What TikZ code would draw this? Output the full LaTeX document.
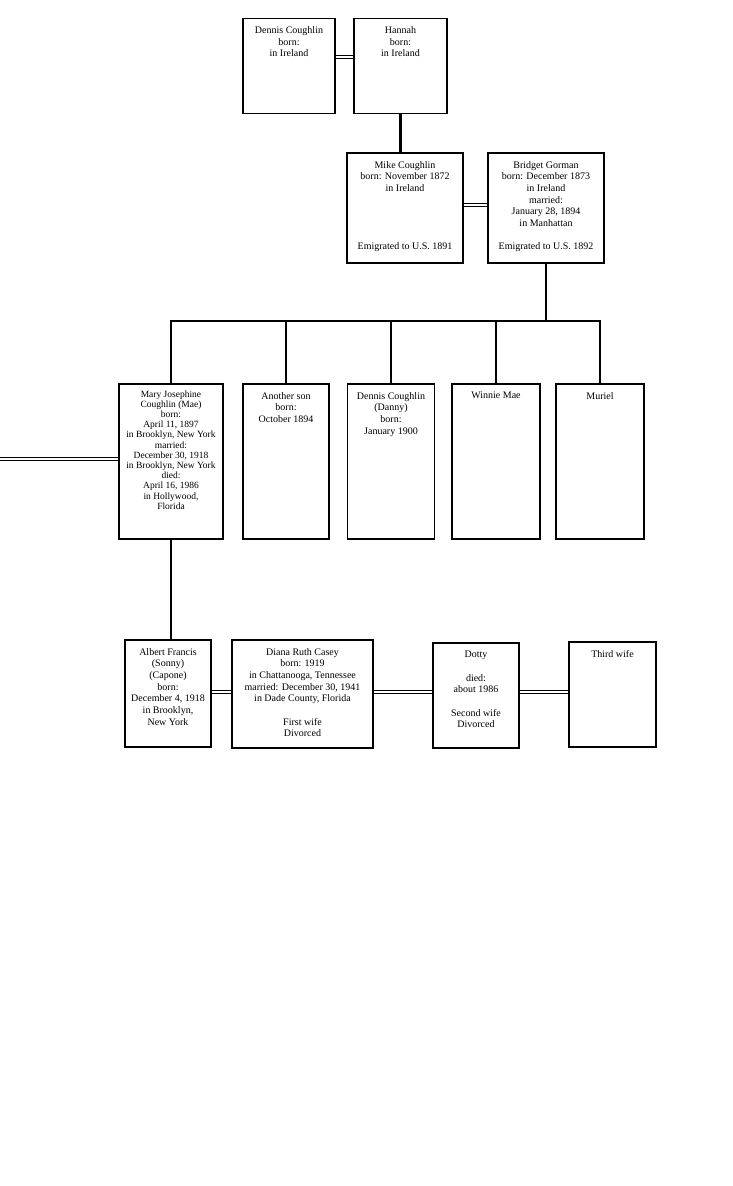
\documentclass[tikz,border=0pt]{standalone}
\usepackage{fontspec}
\setmainfont{Liberation Serif}
\usepackage{tikz}

\tikzset{
  box/.style={draw, line width=1.2pt, inner sep=0pt},
  dims/.style 2 args={minimum width=#1pt, minimum height=#2pt},
  txt/.style={align=center, inner sep=0pt, font=\fontsize{10}{11.7}\selectfont},
  who/.style={label={[txt, anchor=north, yshift=-8.5pt]north:{#1}}},
  foot/.style={label={[txt, anchor=south, yshift=12pt]south:{#1}}},
  kin/.style={line width=2.1pt},
  wed/.style={line width=1.5pt, double, double distance=1.8pt}
}

\begin{document}
\begin{tikzpicture}[x=1pt, y=-1pt]
\useasboundingbox (0,0) rectangle (733,1186);
% grandparents
\node[box, dims={92}{95}, who={Dennis Coughlin\\born:\\in Ireland}] (dennis) at (289,66) {};
\node[box, dims={93}{95}, who={Hannah\\born:\\in Ireland}] (hannah) at (400.5,66) {};
% parents
\node[box, dims={116}{110}, who={Mike Coughlin\\born: November 1872\\in Ireland},
  foot={Emigrated to U.S. 1891}] (mike) at (405,208) {};
\node[box, dims={116}{110}, who={Bridget Gorman\\born: December 1873\\in Ireland\\married:\\January 28, 1894\\in Manhattan},
  foot={Emigrated to U.S. 1892}] (bridget) at (546,208) {};
% children
\node[box, dims={104}{155}, label={[txt, font=\fontsize{9.5}{10.2}\selectfont, anchor=north, yshift=-7pt]north:{Mary Josephine\\Coughlin (Mae)\\born:\\April 11, 1897\\in Brooklyn, New York\\married:\\December 30, 1918\\in Brooklyn, New York\\died:\\April 16, 1986\\in Hollywood,\\Florida}}] (mae) at (171,461.5) {};
\node[box, dims={86}{155}, who={Another son\\born:\\October 1894}] (son) at (286,461.5) {};
\node[box, dims={87}{155}, who={Dennis Coughlin\\(Danny)\\born:\\January 1900}] (danny) at (391,461.5) {};
\node[box, dims={88}{155}, who={Winnie Mae}] (winnie) at (496,461.5) {};
\node[box, dims={88}{155}, who={Muriel}] (muriel) at (600,461.5) {};
% grandson and wives
\node[box, dims={86}{107}, who={Albert Francis\\(Sonny)\\(Capone)\\born:\\December 4, 1918\\in Brooklyn,\\New York}] (albert) at (168,693.5) {};
\node[box, dims={141}{108}, who={Diana Ruth Casey\\born: 1919\\in Chattanooga, Tennessee\\married: December 30, 1941\\in Dade County, Florida\\[11.7pt]First wife\\Divorced}] (diana) at (302.5,694) {};
\node[box, dims={86}{105}, who={Dotty\\[11.7pt]died:\\about 1986\\[11.7pt]Second wife\\Divorced}] (dotty) at (476,695.5) {};
\node[box, dims={87}{105}, who={Third wife}] (third) at (612.5,694.5) {};

\coordinate (fork) at (546,321);
\coordinate (spouse) at (0,459);
\coordinate (wedline) at (0,692);

\draw[wed] ([yshift=9pt]dennis.east) -- ([yshift=9pt]dennis.east -| hannah.west);
\draw[kin] (hannah.south) -- (hannah.south |- mike.north);
\draw[wed] ([yshift=3pt]mike.east) -- ([yshift=3pt]mike.east -| bridget.west);
\draw[kin] (bridget.south) -- (fork);
\draw[kin] (mae.north) -- (fork -| mae.north) -- (fork -| muriel.north) -- (muriel.north);
\foreach \c in {son,danny,winnie}
  \draw[kin] (fork -| \c.north) -- (\c.north);
\draw[wed] (spouse) -- (spouse -| mae.west);
\draw[kin] (mae.south) -- (mae.south |- albert.north);
\draw[wed] (albert.east |- wedline) -- (diana.west |- wedline);
\draw[wed] (diana.east |- wedline) -- (dotty.west |- wedline);
\draw[wed] (dotty.east |- wedline) -- (third.west |- wedline);
\end{tikzpicture}
\end{document}
